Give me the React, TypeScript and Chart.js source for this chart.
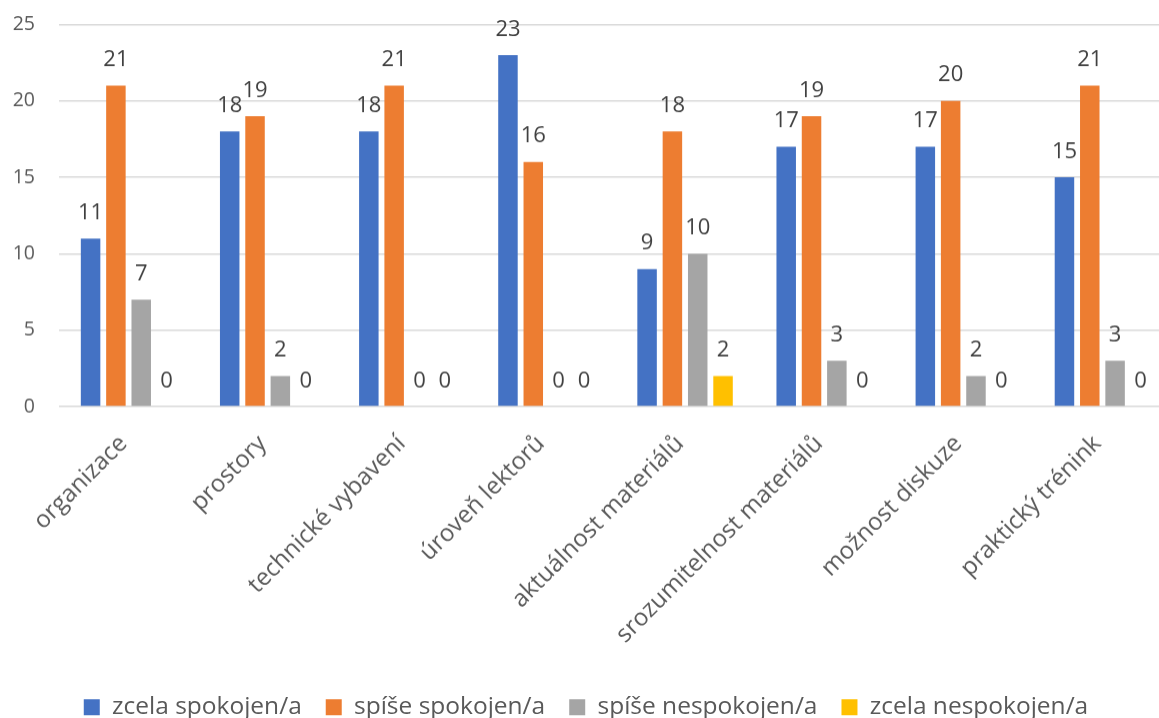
import React, { useEffect, useRef } from "react";
import { Chart, registerables } from "chart.js";

Chart.register(...registerables);

const categories = [
  "organizace",
  "prostory",
  "technické vybavení",
  "úroveň lektorů",
  "aktuálnost materiálů",
  "srozumitelnost materiálů",
  "možnost diskuze",
  "praktický trénink",
];
const seriesNames = [
  "zcela spokojen/a",
  "spíše spokojen/a",
  "spíše nespokojen/a",
  "zcela nespokojen/a",
];
const zcelaSpokojen = [11, 18, 18, 23, 9, 17, 17, 15];
const spiseSpokojen = [21, 19, 21, 16, 18, 19, 20, 21];
const spiseNespokojen = [7, 2, 0, 0, 10, 3, 2, 3];
const zcelaNespokojen = [0, 0, 0, 0, 2, 0, 0, 0];
const seriesColors = ["#4472C4", "#ED7D31", "#A5A5A5", "#FFC000"];
const yMin = 0;
const yMax = 25;
const yStep = 5;

const FONT = '"Open Sans", "DejaVu Sans", sans-serif';

const dataLabelPlugin = {
  id: "dataLabels",
  afterDatasetsDraw(chart: any) {
    const ctx = chart.ctx;
    ctx.save();
    ctx.font = `22px ${FONT}`;
    ctx.fillStyle = "#404040";
    ctx.textAlign = "center";
    ctx.textBaseline = "alphabetic";
    chart.data.datasets.forEach((ds: any, i: number) => {
      const meta = chart.getDatasetMeta(i);
      meta.data.forEach((el: any, j: number) => {
        ctx.fillText(String(ds.data[j]), el.x, el.y - 19.5);
      });
    });
    ctx.restore();
  },
};

export default function App() {
  const canvasRef = useRef<HTMLCanvasElement | null>(null);

  useEffect(() => {
    if (!canvasRef.current) return;
    const values = [zcelaSpokojen, spiseSpokojen, spiseNespokojen, zcelaNespokojen];
    const chart = new Chart(canvasRef.current, {
      type: "bar",
      data: {
        labels: categories,
        datasets: values.map((v, i) => ({
          label: seriesNames[i],
          data: v,
          backgroundColor: seriesColors[i],
          borderWidth: 0,
          barPercentage: 0.77,
          categoryPercentage: 0.728,
        })),
      },
      options: {
        animation: false,
        responsive: true,
        maintainAspectRatio: false,
        layout: { padding: { top: 24.5, left: 0, right: 0, bottom: 0 } },
        plugins: {
          tooltip: { enabled: false },
          legend: {
            position: "bottom",
            labels: {
              boxWidth: 16,
              boxHeight: 16,
              padding: 24,
              color: "#595959",
              font: { family: FONT, size: 24.5 },
            },
          },
        },
        scales: {
          x: {
            grid: { display: false, drawTicks: false },
            border: { display: false },
            ticks: {
              minRotation: 45,
              maxRotation: 45,
              autoSkip: false,
              padding: 23,
              labelOffset: -5,
              color: "#595959",
              font: { family: FONT, size: 24 },
            },
            afterFit: (scale: any) => {
              scale.height = 264;
            },
          },
          y: {
            min: yMin,
            max: yMax,
            grid: {
              color: "#D9D9D9",
              lineWidth: 1.5,
              drawTicks: true,
              tickLength: 24,
              tickColor: "rgba(0,0,0,0)",
            },
            border: { display: false },
            ticks: {
              stepSize: yStep,
              padding: 0,
              color: "#595959",
              font: { family: FONT, size: 19.5 },
            },
            afterFit: (scale: any) => {
              scale.width = 59;
            },
          },
        },
      },
      plugins: [dataLabelPlugin],
    });
    return () => chart.destroy();
  }, []);

  return (
    <div
      style={{
        position: "fixed",
        left: 0,
        top: 0,
        width: 1159,
        height: 718,
        overflow: "hidden",
        background: "#fff",
      }}
    >
      <div style={{ position: "relative", width: 1172, height: 728.5 }}>
        <canvas ref={canvasRef} />
      </div>
    </div>
  );
}
